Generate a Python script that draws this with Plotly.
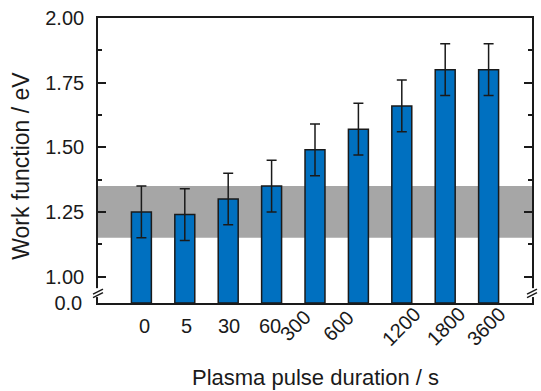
import plotly.graph_objects as go
from plotly.subplots import make_subplots

# Work function vs. plasma pulse duration
durations = ["0", "5", "30", "60", "300", "600", "1200", "1800", "3600"]
work_function = [1.25, 1.24, 1.30, 1.35, 1.49, 1.57, 1.66, 1.80, 1.80]
work_function_err = [0.10, 0.10, 0.10, 0.10, 0.10, 0.10, 0.10, 0.10, 0.10]

# reference band (untreated range)
band_low, band_high = 1.15, 1.35

y_ticks = [1.00, 1.25, 1.50, 1.75, 2.00]

# x tick label styling: short labels flat, long ones slanted
label_angles = [0, 0, 0, 0, -45, -45, -45, -45, -45]
label_shift = [3, 1.5, 1, -1.5, -20, -20, 0, 1, -2]

FONT = "Liberation Sans, Arial, sans-serif"
INK = "#1a1a1a"
BAR = "#0070c0"

# geometry of the broken axis (pixels)
W, H = 541, 391
ML, MR, MT, MB = 98, 7, 15, 88
plot_h = H - MT - MB           # 288
low_h = 11                     # height of the 0.0 stub below the break
px_per_ev = 261.3
upper_min = 2.0 - (plot_h - low_h) / px_per_ev

fig = make_subplots(rows=2, cols=1, shared_xaxes=True, vertical_spacing=0,
                    row_heights=[plot_h - low_h, low_h])

bar_style = dict(marker=dict(color=BAR, line=dict(color=INK, width=1.5)),
                 width=0.46, showlegend=False)

fig.add_trace(go.Bar(x=durations, y=work_function,
                     error_y=dict(type="data", array=work_function_err,
                                  color=INK, thickness=1.5, width=5),
                     **bar_style), row=1, col=1)
fig.add_trace(go.Bar(x=durations, y=work_function, **bar_style), row=2, col=1)

# grey band behind the bars
fig.add_shape(type="rect", xref="x domain", yref="y", x0=0, x1=1,
              y0=band_low, y1=band_high, fillcolor="#a6a6a6",
              line=dict(width=0), layer="below")

axis_common = dict(showline=True, linecolor=INK, linewidth=1.6,
                   tickfont=dict(family=FONT, size=20, color=INK),
                   showgrid=False, zeroline=False)

fig.update_xaxes(type="category", range=[-1, len(durations)], ticks="",
                 showticklabels=False, **axis_common)
fig.update_xaxes(side="top", row=1, col=1)

fig.update_yaxes(range=[upper_min, 2.0], tickvals=y_ticks,
                 ticktext=[f"{v:.2f}" for v in y_ticks],
                 ticks="inside", ticklen=8, tickwidth=1.5, tickcolor=INK,
                 mirror="ticks", ticklabelstandoff=8,
                 minor=dict(dtick=0.125, tick0=0, ticks="inside", ticklen=4,
                            tickwidth=1.5, tickcolor=INK),
                 row=1, col=1, **axis_common)
fig.update_yaxes(range=[0, 0.05], tickvals=[0], ticktext=["0.0"], ticks="",
                 mirror=True, ticklabelstandoff=10,
                 row=2, col=1, **axis_common)

def xp(px):
    return (px - ML) / (W - ML - MR)

def yp(py):
    return (H - MB - py) / plot_h

# axis break marks on both sides
for ax_px in (ML, W - MR):
    fig.add_shape(type="rect", xref="paper", yref="paper",
                  x0=xp(ax_px - 3), x1=xp(ax_px + 3), y0=yp(297), y1=yp(288),
                  fillcolor="white", line=dict(width=0), layer="above")
    for dy in (0, 3.5):
        fig.add_shape(type="line", xref="paper", yref="paper",
                      x0=xp(ax_px - 5), y0=yp(294 + dy),
                      x1=xp(ax_px + 5), y1=yp(289 + dy),
                      line=dict(color=INK, width=1.5), layer="above")

annotations = []
for i, (name, ang, sh) in enumerate(zip(durations, label_angles, label_shift)):
    # category axes place annotations by category index
    annotations.append(dict(x=i, xref="x2", y=yp(326.5), yref="paper",
                            text=name, textangle=ang, showarrow=False,
                            xanchor="center", yanchor="middle", xshift=sh,
                            font=dict(family=FONT, size=20, color=INK)))

annotations.append(dict(x=0.5, xref="paper", y=yp(378), yref="paper",
                        text="Plasma pulse duration / s", showarrow=False,
                        xanchor="center", yanchor="middle",
                        font=dict(family=FONT, size=22, color=INK)))
annotations.append(dict(x=xp(21), xref="paper", y=yp(164), yref="paper",
                        text="Work function / eV", textangle=-90,
                        showarrow=False, xanchor="center", yanchor="middle",
                        font=dict(family=FONT, size=23, color=INK)))

fig.update_layout(width=W, height=H,
                  margin=dict(l=ML, r=MR, t=MT, b=MB, pad=0),
                  plot_bgcolor="white", paper_bgcolor="white",
                  annotations=annotations,
                  font=dict(family=FONT, color=INK))

fig.write_html("out.html")
